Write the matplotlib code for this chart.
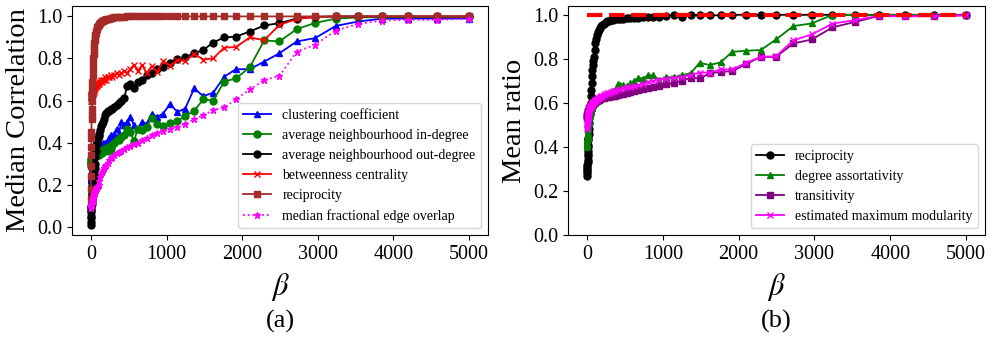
import matplotlib
matplotlib.use("Agg")
import matplotlib.pyplot as plt

plt.rcParams['font.family'] = ['Liberation Serif', 'DejaVu Serif']
plt.rcParams['mathtext.fontset'] = 'stix'

# beta values (same grid for every curve)
beta = [1, 2, 3, 4, 5, 6, 7, 8,
        10, 11, 12, 14, 16, 18, 20,
        23, 26, 30, 33, 36, 39, 43, 47,
        51, 56, 61, 66, 72, 79, 86, 93,
        102, 111, 121, 132, 143, 156, 170, 186,
        203, 221, 241, 262, 286, 312, 340, 370,
        404, 440, 480, 523, 570, 621, 677, 738,
        805, 877, 956, 1044, 1145, 1247, 1366, 1485,
        1617, 1762, 1916, 2101, 2291, 2493, 2722, 2965,
        3238, 3537, 3846, 4198, 4581, 5000]

# --- panel (a): median correlation ---
clustering = [0.20, 0.21, 0.22, 0.22, 0.23, 0.24, 0.24, 0.25,
              0.26, 0.26, 0.27, 0.28, 0.28, 0.29, 0.29,
              0.30, 0.30, 0.31, 0.32, 0.32, 0.33, 0.33, 0.34,
              0.34, 0.35, 0.35, 0.36, 0.36, 0.37, 0.37, 0.38,
              0.38, 0.37, 0.37, 0.39, 0.38, 0.40, 0.39, 0.40,
              0.395, 0.41, 0.42, 0.435, 0.427, 0.443, 0.466, 0.443,
              0.498, 0.482, 0.498, 0.522, 0.482, 0.466, 0.498, 0.49,
              0.538, 0.522, 0.538, 0.583, 0.546, 0.562, 0.658, 0.621,
              0.637, 0.713, 0.749, 0.749, 0.785, 0.825, 0.881, 0.897,
              0.955, 0.976, 0.989, 0.99, 0.99, 0.99]
in_degree = [0.29, 0.30, 0.30, 0.31, 0.31, 0.31, 0.32, 0.32,
             0.32, 0.33, 0.33, 0.33, 0.33, 0.34, 0.34,
             0.34, 0.33, 0.34, 0.35, 0.34, 0.35, 0.34, 0.35,
             0.35, 0.34, 0.35, 0.36, 0.35, 0.34, 0.35, 0.36,
             0.35, 0.34, 0.35, 0.36, 0.35, 0.36, 0.37, 0.36,
             0.37, 0.38, 0.36, 0.37, 0.39, 0.40, 0.41, 0.41,
             0.427, 0.435, 0.466, 0.45, 0.408, 0.466, 0.459, 0.475,
             0.519, 0.487, 0.478, 0.494, 0.503, 0.526, 0.551, 0.605,
             0.599, 0.69, 0.705, 0.758, 0.886, 0.881, 0.94, 0.969,
             0.99, 0.995, 0.997, 0.997, 0.997, 0.997]
out_degree = [0.01, 0.02, 0.04, 0.05, 0.07, 0.08, 0.09, 0.10,
              0.11, 0.12, 0.13, 0.15, 0.16, 0.17, 0.18,
              0.19, 0.20, 0.21, 0.22, 0.23, 0.24, 0.25, 0.26,
              0.28, 0.30, 0.33, 0.36, 0.39, 0.40, 0.41, 0.42,
              0.43, 0.44, 0.46, 0.48, 0.49, 0.50, 0.51, 0.53,
              0.54, 0.55, 0.55, 0.56, 0.56, 0.57, 0.58, 0.59,
              0.60, 0.61, 0.67, 0.68, 0.66, 0.69, 0.70, 0.72,
              0.73, 0.75, 0.76, 0.78, 0.796, 0.806, 0.825, 0.84,
              0.876, 0.90, 0.904, 0.928, 0.957, 0.968, 0.99, 0.998,
              1.0, 1.0, 1.0, 1.0, 1.0, 1.0]
betweenness = [0.62, 0.61, 0.62, 0.60, 0.62, 0.61, 0.63, 0.62,
               0.62, 0.61, 0.63, 0.62, 0.63, 0.62, 0.64,
               0.63, 0.64, 0.63, 0.65, 0.64, 0.65, 0.66, 0.65,
               0.66, 0.67, 0.66, 0.67, 0.68, 0.67, 0.68, 0.68,
               0.69, 0.68, 0.69, 0.70, 0.69, 0.70, 0.70, 0.71,
               0.70, 0.71, 0.71, 0.72, 0.71, 0.72, 0.73, 0.72,
               0.73, 0.74, 0.73, 0.75, 0.77, 0.74, 0.77, 0.73,
               0.765, 0.737, 0.788, 0.766, 0.793, 0.788, 0.822, 0.795,
               0.80, 0.852, 0.854, 0.90, 0.887, 0.96, 0.988, 0.997,
               1.0, 1.0, 1.0, 1.0, 1.0, 1.0]
reciprocity_a = [0.13, 0.18, 0.24, 0.29, 0.34, 0.38, 0.42, 0.45,
                 0.51, 0.53, 0.56, 0.60, 0.63, 0.66, 0.69,
                 0.72, 0.75, 0.78, 0.80, 0.82, 0.84, 0.86, 0.875,
                 0.89, 0.90, 0.91, 0.92, 0.93, 0.94, 0.95, 0.955,
                 0.96, 0.965, 0.97, 0.975, 0.978, 0.98, 0.983, 0.985,
                 0.987, 0.989, 0.99, 0.992, 0.994, 0.995, 0.996, 0.997,
                 0.998, 0.999, 1.0, 1.0, 1.0, 1.0, 1.0, 1.0,
                 1.0, 1.0, 1.0, 1.0, 1.0, 1.0, 1.0, 1.0,
                 1.0, 1.0, 1.0, 1.0, 1.0, 1.0, 1.0, 1.0,
                 1.0, 1.0, 1.0, 1.0, 1.0, 1.0]
edge_overlap = [0.09, 0.095, 0.10, 0.10, 0.10, 0.10, 0.105, 0.105,
                0.105, 0.11, 0.11, 0.11, 0.115, 0.115, 0.12,
                0.12, 0.125, 0.13, 0.135, 0.14, 0.145, 0.15, 0.155,
                0.16, 0.165, 0.17, 0.175, 0.18, 0.185, 0.19, 0.195,
                0.20, 0.215, 0.235, 0.25, 0.26, 0.27, 0.28, 0.287,
                0.295, 0.305, 0.315, 0.325, 0.333, 0.34, 0.35, 0.355,
                0.362, 0.37, 0.378, 0.385, 0.393, 0.40, 0.41, 0.42,
                0.435, 0.445, 0.455, 0.465, 0.475, 0.49, 0.51, 0.53,
                0.554, 0.567, 0.605, 0.653, 0.697, 0.717, 0.833, 0.865,
                0.933, 0.965, 0.98, 0.984, 0.984, 0.989]

# --- panel (b): mean ratio ---
reciprocity_b = [0.27, 0.28, 0.29, 0.30, 0.31, 0.32, 0.33, 0.34,
                 0.36, 0.37, 0.38, 0.40, 0.41, 0.43, 0.44,
                 0.46, 0.48, 0.51, 0.53, 0.55, 0.56, 0.58, 0.60,
                 0.63, 0.66, 0.69, 0.72, 0.75, 0.77, 0.79, 0.81,
                 0.84, 0.87, 0.89, 0.91, 0.92, 0.93, 0.94, 0.95,
                 0.955, 0.96, 0.965, 0.97, 0.973, 0.976, 0.978, 0.98,
                 0.981, 0.982, 0.983, 0.984, 0.985, 0.986, 0.987, 0.988,
                 0.989, 0.99, 0.99, 0.995, 0.998, 0.99, 1.0, 0.999,
                 0.997, 0.998, 1.0, 1.0, 1.0, 1.0, 1.0, 1.0,
                 1.0, 1.0, 1.0, 1.0, 1.0, 1.0]
assortativity = [0.40, 0.41, 0.42, 0.42, 0.43, 0.43, 0.44, 0.44,
                 0.45, 0.455, 0.46, 0.47, 0.48, 0.49, 0.50,
                 0.51, 0.52, 0.53, 0.54, 0.545, 0.55, 0.555, 0.56,
                 0.565, 0.57, 0.575, 0.58, 0.585, 0.59, 0.595, 0.60,
                 0.60, 0.605, 0.61, 0.61, 0.615, 0.62, 0.62, 0.625,
                 0.63, 0.63, 0.635, 0.64, 0.645, 0.65, 0.655, 0.66,
                 0.685, 0.68, 0.68, 0.676, 0.69, 0.70, 0.714, 0.71,
                 0.726, 0.725, 0.703, 0.716, 0.716, 0.726, 0.734, 0.782,
                 0.772, 0.784, 0.832, 0.837, 0.84, 0.888, 0.949, 0.961,
                 1.0, 1.0, 1.0, 1.0, 1.0, 1.0]
transitivity = [0.53, 0.535, 0.54, 0.54, 0.545, 0.545, 0.55, 0.55,
                0.555, 0.555, 0.555, 0.56, 0.56, 0.565, 0.565,
                0.57, 0.57, 0.575, 0.575, 0.58, 0.58, 0.58, 0.585,
                0.585, 0.59, 0.59, 0.595, 0.595, 0.60, 0.60, 0.605,
                0.605, 0.61, 0.61, 0.612, 0.615, 0.615, 0.618, 0.62,
                0.62, 0.622, 0.625, 0.625, 0.628, 0.63, 0.63, 0.633,
                0.635, 0.64, 0.642, 0.645, 0.648, 0.652, 0.658, 0.662,
                0.668, 0.672, 0.676, 0.684, 0.69, 0.70, 0.714, 0.711,
                0.734, 0.741, 0.744, 0.776, 0.809, 0.809, 0.87, 0.888,
                0.943, 0.968, 0.994, 0.994, 0.994, 0.998]
modularity = [0.48, 0.49, 0.50, 0.505, 0.51, 0.515, 0.52, 0.525,
              0.53, 0.533, 0.535, 0.54, 0.545, 0.55, 0.555,
              0.56, 0.565, 0.57, 0.572, 0.575, 0.578, 0.58, 0.583,
              0.585, 0.588, 0.59, 0.595, 0.598, 0.60, 0.603, 0.606,
              0.61, 0.612, 0.615, 0.618, 0.62, 0.623, 0.626, 0.63,
              0.633, 0.636, 0.64, 0.643, 0.646, 0.65, 0.653, 0.656,
              0.66, 0.663, 0.666, 0.67, 0.673, 0.677, 0.68, 0.686,
              0.695, 0.70, 0.706, 0.71, 0.712, 0.718, 0.726, 0.738,
              0.737, 0.752, 0.752, 0.782, 0.809, 0.812, 0.884, 0.911,
              0.96, 0.976, 0.995, 0.993, 0.994, 0.998]

fig = plt.figure(figsize=(9.96, 3.4), dpi=100)
ax1 = fig.add_axes([0.0723, 0.3088, 0.4177, 0.6735])
ax2 = fig.add_axes([0.5703, 0.3088, 0.4187, 0.6735])

ms = 5
lw = 1.3
ax1.plot(beta, clustering, color='blue', marker='^', ms=ms, lw=lw, label='clustering coefficient')
ax1.plot(beta, in_degree, color='green', marker='o', ms=ms, lw=lw, label='average neighbourhood in-degree')
ax1.plot(beta, out_degree, color='black', marker='o', ms=ms, lw=lw, label='average neighbourhood out-degree')
ax1.plot(beta, betweenness, color='red', marker='x', ms=ms, lw=lw, label='betweenness centrality')
ax1.plot(beta, reciprocity_a, color='brown', marker='s', ms=ms, lw=lw, label='reciprocity')
ax1.plot(beta, edge_overlap, color='magenta', marker='*', ms=ms, lw=lw, ls=':', label='median fractional edge overlap')
ax1.set_ylabel('Median Correlation', fontsize=20.5)
ax1.legend(loc='lower right', fontsize=10)

ax2.plot(beta, reciprocity_b, color='black', marker='o', ms=ms, lw=lw, label='reciprocity')
ax2.plot(beta, assortativity, color='green', marker='^', ms=ms, lw=lw, label='degree assortativity')
ax2.plot(beta, transitivity, color='purple', marker='s', ms=ms, lw=lw, label='transitivity')
ax2.plot(beta, modularity, color='magenta', marker='x', ms=ms, lw=lw, label='estimated maximum modularity')
ax2.plot([0, 5000], [1.0, 1.0], color='red', ls='--', lw=3)
ax2.set_ylim(0, 1.04)
ax2.set_ylabel('Mean ratio', fontsize=20.5)
ax2.legend(loc='lower right', fontsize=10)

for ax, tag in ((ax1, '(a)'), (ax2, '(b)')):
    ax.set_xticks([0, 1000, 2000, 3000, 4000, 5000])
    ax.set_yticks([0.0, 0.2, 0.4, 0.6, 0.8, 1.0])
    ax.tick_params(labelsize=14.5)
    ax.set_xlabel(r'$\beta$', fontsize=22, labelpad=5)
    pos = ax.get_position()
    fig.text(pos.x0 + pos.width / 2, 0.055, tag, ha='center', va='center', fontsize=19)

fig.savefig('out.png', dpi=100)
